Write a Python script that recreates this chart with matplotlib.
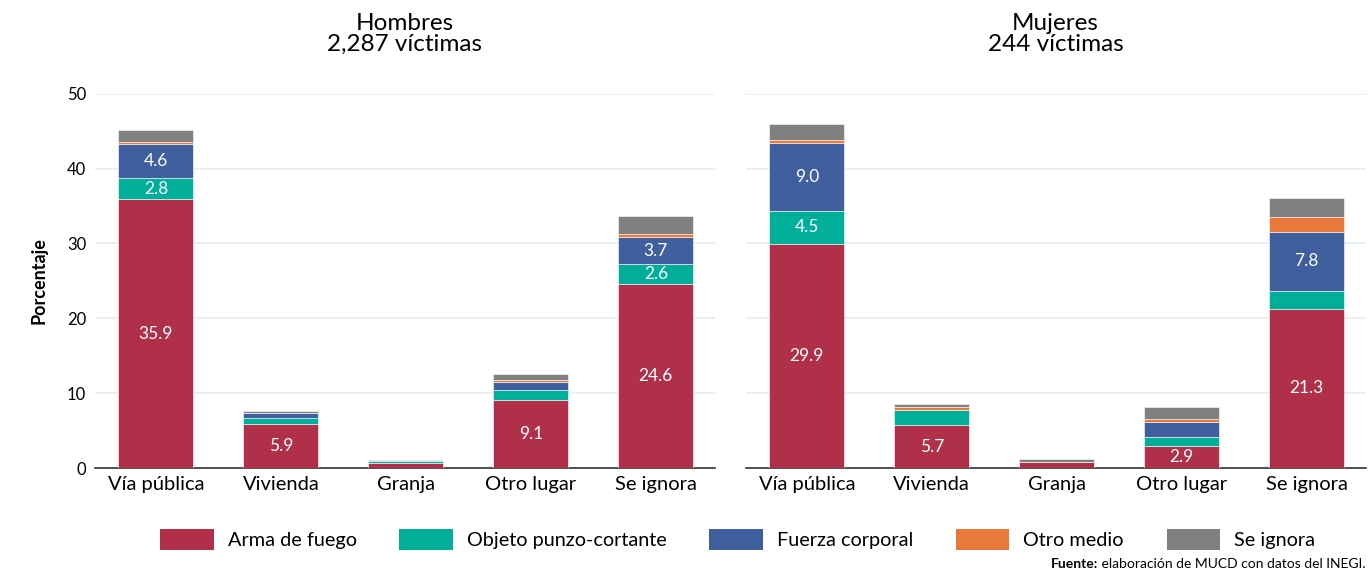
import matplotlib.pyplot as plt
import numpy as np
from matplotlib.patches import Patch

plt.rcParams['font.family'] = ['Lato', 'DejaVu Sans']

categorias = ['Vía pública', 'Vivienda', 'Granja', 'Otro lugar', 'Se ignora']
medios = ['Arma de fuego', 'Objeto punzo-cortante', 'Fuerza corporal', 'Otro medio', 'Se ignora']
colores = ['#b0304a', '#00ae9a', '#3f5f9e', '#e8793a', '#808080']

# porcentajes por medio (filas) y lugar (columnas)
hombres = [
    [35.9, 5.9, 0.7, 9.1, 24.6],
    [2.8, 0.8, 0.2, 1.3, 2.6],
    [4.6, 0.6, 0.1, 1.1, 3.7],
    [0.3, 0.1, 0.0, 0.2, 0.3],
    [1.5, 0.2, 0.1, 0.8, 2.5],
]
mujeres = [
    [29.9, 5.7, 0.8, 2.9, 21.3],
    [4.5, 2.0, 0.0, 1.2, 2.4],
    [9.0, 0.0, 0.0, 2.0, 7.8],
    [0.4, 0.4, 0.0, 0.4, 2.0],
    [2.1, 0.5, 0.4, 1.7, 2.6],
]
titulos = ['Hombres\n2,287 víctimas', 'Mujeres\n244 víctimas']

fig, axes = plt.subplots(1, 2, figsize=(13.71, 5.75), dpi=100, sharey=True)
fig.subplots_adjust(left=0.069, right=0.996, top=0.837, bottom=0.186, wspace=0.05)

x = np.arange(len(categorias))
for ax, datos, titulo in zip(axes, [hombres, mujeres], titulos):
    base = np.zeros(len(categorias))
    for i, (vals, col) in enumerate(zip(datos, colores)):
        vals = np.array(vals)
        bars = ax.bar(x, vals, 0.6, bottom=base, color=col,
                      edgecolor='white', linewidth=0.4, zorder=3)
        if i < 3:
            for b, v, b0 in zip(bars, vals, base):
                if v >= 2.5:
                    ax.text(b.get_x() + b.get_width()/2, b0 + v/2, f'{v:.1f}',
                            ha='center', va='center', color='white',
                            fontsize=12.5, zorder=4)
        base += vals
    ax.set_title(titulo, fontsize=17.5, linespacing=1.0, pad=31)
    ax.set_xticks(x)
    ax.set_xticklabels(categorias, fontsize=14.5)
    ax.set_xlim(-0.49, 4.47)
    ax.set_ylim(0, 50)
    ax.set_yticks([0, 10, 20, 30, 40, 50])
    ax.grid(axis='y', color='#e6edf0', linewidth=1.2, zorder=0)
    for s in ['top', 'right', 'left']:
        ax.spines[s].set_visible(False)
    ax.spines['bottom'].set_color('#333333')
    ax.spines['bottom'].set_linewidth(1.2)
    ax.tick_params(axis='both', length=0, pad=6)
    ax.tick_params(axis='y', labelsize=12)

axes[1].tick_params(axis='y', labelleft=False)
axes[0].set_ylabel('Porcentaje', fontsize=13, fontweight='bold', labelpad=14)

handles = [Patch(facecolor=c, edgecolor='none') for c in colores]
fig.legend(handles, medios, loc='center', ncol=5, frameon=False,
           fontsize=14.3, handlelength=2.7, handleheight=1.2, columnspacing=2.15,
           handletextpad=0.7, bbox_to_anchor=(0.538, 0.062))

# nota de fuente: parte en negrita + parte normal
renderer = fig.canvas.get_renderer()
t = fig.text(0.996, 0.008, ' elaboración de MUCD con datos del INEGI.',
             ha='right', va='bottom', fontsize=10)
bb = t.get_window_extent(renderer=renderer)
fig.text(bb.x0 / fig.bbox.width, 0.008, 'Fuente:', ha='right', va='bottom',
         fontsize=10, fontweight='bold')

plt.savefig('out.png', dpi=100)
